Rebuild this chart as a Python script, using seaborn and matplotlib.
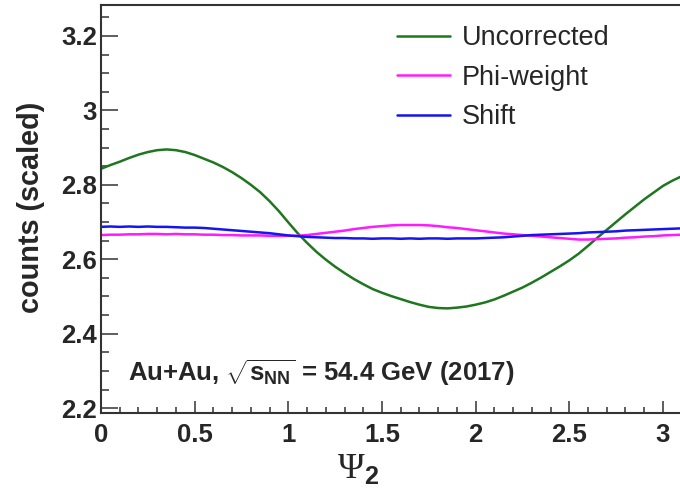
import matplotlib
matplotlib.use("Agg")
import matplotlib.pyplot as plt
import seaborn as sns
import pandas as pd
from matplotlib.ticker import MultipleLocator, FuncFormatter

# ---- data ----
psi = [0.00, 0.05, 0.10, 0.15, 0.20, 0.25, 0.30, 0.35, 0.40, 0.45,
       0.50, 0.55, 0.60, 0.65, 0.70, 0.75, 0.80, 0.85, 0.90, 0.95,
       1.00, 1.05, 1.10, 1.15, 1.20, 1.25, 1.30, 1.35, 1.40, 1.45,
       1.50, 1.55, 1.60, 1.65, 1.70, 1.75, 1.80, 1.85, 1.90, 1.95,
       2.00, 2.05, 2.10, 2.15, 2.20, 2.25, 2.30, 2.35, 2.40, 2.45,
       2.50, 2.55, 2.60, 2.65, 2.70, 2.75, 2.80, 2.85, 2.90, 2.95,
       3.00, 3.05, 3.10]

uncorrected = [2.843, 2.853, 2.862, 2.872, 2.881, 2.888, 2.893, 2.895, 2.893, 2.888,
               2.880, 2.870, 2.860, 2.848, 2.834, 2.818, 2.800, 2.780, 2.756, 2.729,
               2.699, 2.670, 2.644, 2.620, 2.599, 2.580, 2.563, 2.547, 2.533, 2.520,
               2.510, 2.501, 2.493, 2.485, 2.478, 2.472, 2.469, 2.468, 2.470, 2.473,
               2.478, 2.484, 2.492, 2.502, 2.513, 2.524, 2.537, 2.551, 2.566, 2.581,
               2.597, 2.615, 2.636, 2.658, 2.679, 2.700, 2.721, 2.741, 2.761, 2.779,
               2.797, 2.811, 2.823]

phi_weight = [2.665, 2.666, 2.666, 2.667, 2.667, 2.668, 2.668, 2.667, 2.668, 2.667,
              2.667, 2.666, 2.666, 2.665, 2.665, 2.664, 2.664, 2.664, 2.663, 2.663,
              2.663, 2.663, 2.665, 2.668, 2.671, 2.674, 2.677, 2.681, 2.684, 2.687,
              2.689, 2.691, 2.692, 2.692, 2.692, 2.691, 2.689, 2.686, 2.684, 2.681,
              2.678, 2.675, 2.672, 2.669, 2.667, 2.665, 2.663, 2.661, 2.659, 2.657,
              2.655, 2.653, 2.653, 2.654, 2.655, 2.656, 2.658, 2.659, 2.661, 2.662,
              2.664, 2.665, 2.666]

shift = [2.687, 2.688, 2.687, 2.688, 2.687, 2.688, 2.687, 2.687, 2.686, 2.685,
         2.685, 2.684, 2.682, 2.680, 2.678, 2.676, 2.674, 2.672, 2.670, 2.667,
         2.664, 2.662, 2.660, 2.659, 2.658, 2.657, 2.657, 2.656, 2.656, 2.655,
         2.656, 2.656, 2.655, 2.656, 2.655, 2.656, 2.656, 2.655, 2.656, 2.656,
         2.656, 2.657, 2.658, 2.659, 2.661, 2.663, 2.665, 2.666, 2.667, 2.668,
         2.669, 2.670, 2.672, 2.673, 2.674, 2.675, 2.677, 2.678, 2.679, 2.680,
         2.681, 2.682, 2.683]

series_names = ["Uncorrected", "Phi-weight", "Shift"]
series_colors = ["#1e761e", "#ff1aff", "#1414f5"]

df = pd.concat([
    pd.DataFrame({"psi": psi, "counts": vals, "series": name})
    for name, vals in zip(series_names, [uncorrected, phi_weight, shift])
], ignore_index=True)

# ---- style ----
sns.set_style("ticks")
plt.rcParams["font.family"] = ["Liberation Sans", "DejaVu Sans"]
plt.rcParams["mathtext.fontset"] = "custom"
plt.rcParams["mathtext.rm"] = "Liberation Sans:bold"
plt.rcParams["mathtext.it"] = "Liberation Sans:bold"
plt.rcParams["mathtext.bf"] = "Liberation Sans:bold"
plt.rcParams["mathtext.sf"] = "Liberation Serif"

fig = plt.figure(figsize=(6.8, 4.92), dpi=100)
ax = fig.add_axes([101 / 680, 79 / 492, 579 / 680, 408 / 492])

sns.lineplot(data=df, x="psi", y="counts", hue="series",
             hue_order=series_names, palette=series_colors,
             linewidth=1.8, estimator=None, sort=False, ax=ax)

ax.set_xlim(0, 3.091)
ax.set_ylim(2.187, 3.283)

ax.xaxis.set_major_locator(MultipleLocator(0.5))
ax.xaxis.set_minor_locator(MultipleLocator(0.1))
ax.yaxis.set_major_locator(MultipleLocator(0.2))
ax.yaxis.set_minor_locator(MultipleLocator(0.05))
fmt = FuncFormatter(lambda v, p: f"{v:g}")
ax.xaxis.set_major_formatter(fmt)
ax.yaxis.set_major_formatter(fmt)

ax.tick_params(axis="y", which="major", direction="in", length=12, width=1.1,
               labelsize=18.5, pad=3, color="#333333")
ax.tick_params(axis="y", which="minor", direction="in", length=6, width=1.1, color="#333333")
ax.tick_params(axis="x", which="major", direction="in", length=8.3, width=1.1,
               labelsize=18.5, pad=7, color="#333333")
ax.tick_params(axis="x", which="minor", direction="in", length=4.3, width=1.1, color="#333333")
for lab in ax.get_xticklabels() + ax.get_yticklabels():
    lab.set_fontweight("bold")

for side in ["left", "bottom", "top"]:
    ax.spines[side].set_linewidth(1.5)
    ax.spines[side].set_color("#333333")
ax.spines["right"].set_visible(False)

ax.set_xlabel("")
ax.set_ylabel("")
fig.text(31 / 680, 1 - 207 / 492, "counts (scaled)", rotation=90,
         ha="center", va="center", fontsize=20.8, fontweight="bold")
fig.text(358 / 680, 1 - 468 / 492, r"$\mathsf{\Psi}_{\mathbf{2}}$",
         ha="center", va="center", fontsize=26)

fig.text(128 / 680, 1 - 381 / 492, r"Au+Au, $\sqrt{s_{NN}}$ = 54.4 GeV (2017)",
         ha="left", va="baseline", fontsize=18.5, fontweight="bold")

handles, labels = ax.get_legend_handles_labels()
ax.legend(handles, labels, loc="upper left", bbox_to_anchor=(397 / 680, 1 - 25 / 492),
          bbox_transform=fig.transFigure, frameon=False,
          prop={"family": "Liberation Sans", "size": 19.5, "weight": "normal"},
          handlelength=1.95, handletextpad=0.45, labelspacing=0.5,
          borderpad=0, borderaxespad=0)

fig.savefig("out.png", dpi=100)
